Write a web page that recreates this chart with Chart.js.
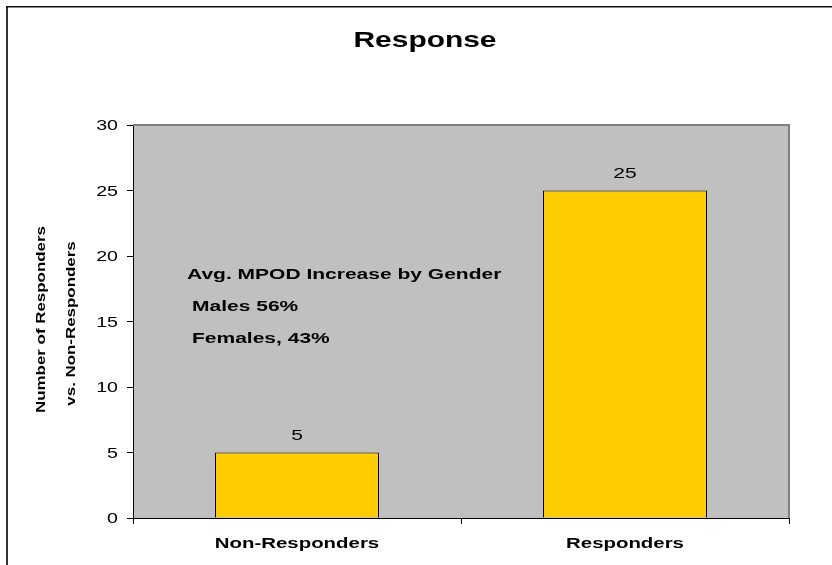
<!DOCTYPE html>
<html>
<head>
<meta charset="utf-8">
<title>Response</title>
<script src="https://cdn.jsdelivr.net/npm/chart.js@4/dist/chart.umd.min.js"></script>
<style>
  html, body { margin: 0; padding: 0; background: #ffffff; }
  canvas { display: block; }
</style>
</head>
<body>
<canvas id="chart" width="832" height="565"></canvas>
<script>
// Chart data
const categories = ['Non-Responders', 'Responders'];
const counts = [5, 25];
const yTicks = [0, 5, 10, 15, 20, 25, 30];
const chartTitle = 'Response';
const yTitleLines = ['Number of Responders', 'vs. Non-Responders'];
const notes = ['Avg. MPOD Increase by Gender', 'Males 56%', 'Females, 43%'];

const FAMILY = '"Liberation Sans", Arial, Helvetica, sans-serif';
const WIDE = 1.4; // the lettering is set wide

// Draws text horizontally widened along its own direction
function wideText(ctx, text, x, y, font, align, angle, wide) {
  ctx.save();
  ctx.translate(x, y);
  if (angle) ctx.rotate(angle);
  ctx.scale(wide || WIDE, 1);
  ctx.font = font;
  ctx.fillStyle = '#000000';
  ctx.textAlign = align;
  ctx.textBaseline = 'alphabetic';
  ctx.fillText(text, 0, 0);
  ctx.restore();
}

const backdrop = {
  id: 'backdrop',
  beforeDraw(chart) {
    const { ctx, chartArea: a } = chart;
    ctx.save();
    ctx.fillStyle = '#ffffff';
    ctx.fillRect(0, 0, chart.width, chart.height);
    // outer frame
    ctx.fillStyle = '#333333';
    ctx.fillRect(6, 6, 2, chart.height - 6);
    ctx.fillStyle = '#111111';
    ctx.fillRect(6, 6, chart.width - 6, 1.5);
    // plot area
    ctx.fillStyle = '#c0c0c0';
    ctx.fillRect(a.left, a.top, a.right - a.left, a.bottom - a.top);
    ctx.restore();
  },
  beforeDatasetsDraw(chart) {
    const { ctx, chartArea: a } = chart;
    ctx.save();
    ctx.strokeStyle = '#808080';
    ctx.lineWidth = 2;
    ctx.beginPath();
    ctx.moveTo(a.left, a.top);
    ctx.lineTo(a.right, a.top);
    ctx.lineTo(a.right, a.bottom);
    ctx.stroke();
    ctx.restore();
  }
};

const labels = {
  id: 'labels',
  afterDraw(chart) {
    const { ctx, chartArea: a, scales } = chart;
    const x = scales.x, y = scales.y;

    // title, centred on the whole frame
    wideText(ctx, chartTitle, (chart.width + 18) / 2, 47, `bold 22px ${FAMILY}`, 'center', 0, 1.36);

    // y tick labels
    yTicks.forEach(v => {
      wideText(ctx, String(v), a.left - 15, y.getPixelForValue(v) + 5, `14px ${FAMILY}`, 'right');
    });

    // category labels
    categories.forEach((c, i) => {
      wideText(ctx, c, x.getPixelForValue(i), a.bottom + 30, `bold 15px ${FAMILY}`, 'center', 0, 1.36);
    });

    // value labels above the bars
    const meta = chart.getDatasetMeta(0);
    meta.data.forEach((bar, i) => {
      wideText(ctx, String(counts[i]), bar.x, y.getPixelForValue(counts[i]) - 13, `15px ${FAMILY}`, 'center');
    });

    // y axis title, two lines
    const midY = (a.top + a.bottom) / 2;
    wideText(ctx, yTitleLines[0], 45, midY - 2, `bold 13px ${FAMILY}`, 'center', -Math.PI / 2, 1.3);
    wideText(ctx, yTitleLines[1], 75, midY + 2, `bold 13px ${FAMILY}`, 'center', -Math.PI / 2, 1.3);

    // note box text
    wideText(ctx, notes[0], a.left + 54, 279, `bold 15px ${FAMILY}`, 'left');
    wideText(ctx, notes[1], a.left + 59, 311, `bold 15px ${FAMILY}`, 'left');
    wideText(ctx, notes[2], a.left + 59, 343, `bold 15px ${FAMILY}`, 'left');
  }
};

new Chart(document.getElementById('chart'), {
  type: 'bar',
  data: {
    labels: categories,
    datasets: [{
      data: counts,
      backgroundColor: '#ffcc00',
      borderColor: '#000000',
      borderWidth: 1,
      barPercentage: 0.5,
      categoryPercentage: 1.0
    }]
  },
  options: {
    responsive: false,
    animation: false,
    devicePixelRatio: 1,
    layout: { padding: { top: 125, right: 43, bottom: 0, left: 0 } },
    plugins: {
      legend: { display: false },
      title: { display: false },
      tooltip: { enabled: false }
    },
    scales: {
      x: {
        offset: true,
        ticks: { display: false },
        grid: {
          offset: true,
          drawOnChartArea: false,
          drawTicks: true,
          tickLength: 6,
          color: '#000000',
          lineWidth: 1
        },
        border: { display: true, color: '#000000', width: 1 },
        afterFit(scale) { scale.height = 47; }
      },
      y: {
        min: 0,
        max: 30,
        afterBuildTicks(scale) { scale.ticks = yTicks.map(v => ({ value: v })); },
        ticks: { display: false, stepSize: 5 },
        grid: {
          drawOnChartArea: false,
          drawTicks: true,
          tickLength: 6,
          color: '#000000',
          lineWidth: 1
        },
        border: { display: true, color: '#000000', width: 1 },
        afterFit(scale) { scale.width = 133; }
      }
    }
  },
  plugins: [backdrop, labels]
});
</script>
</body>
</html>
